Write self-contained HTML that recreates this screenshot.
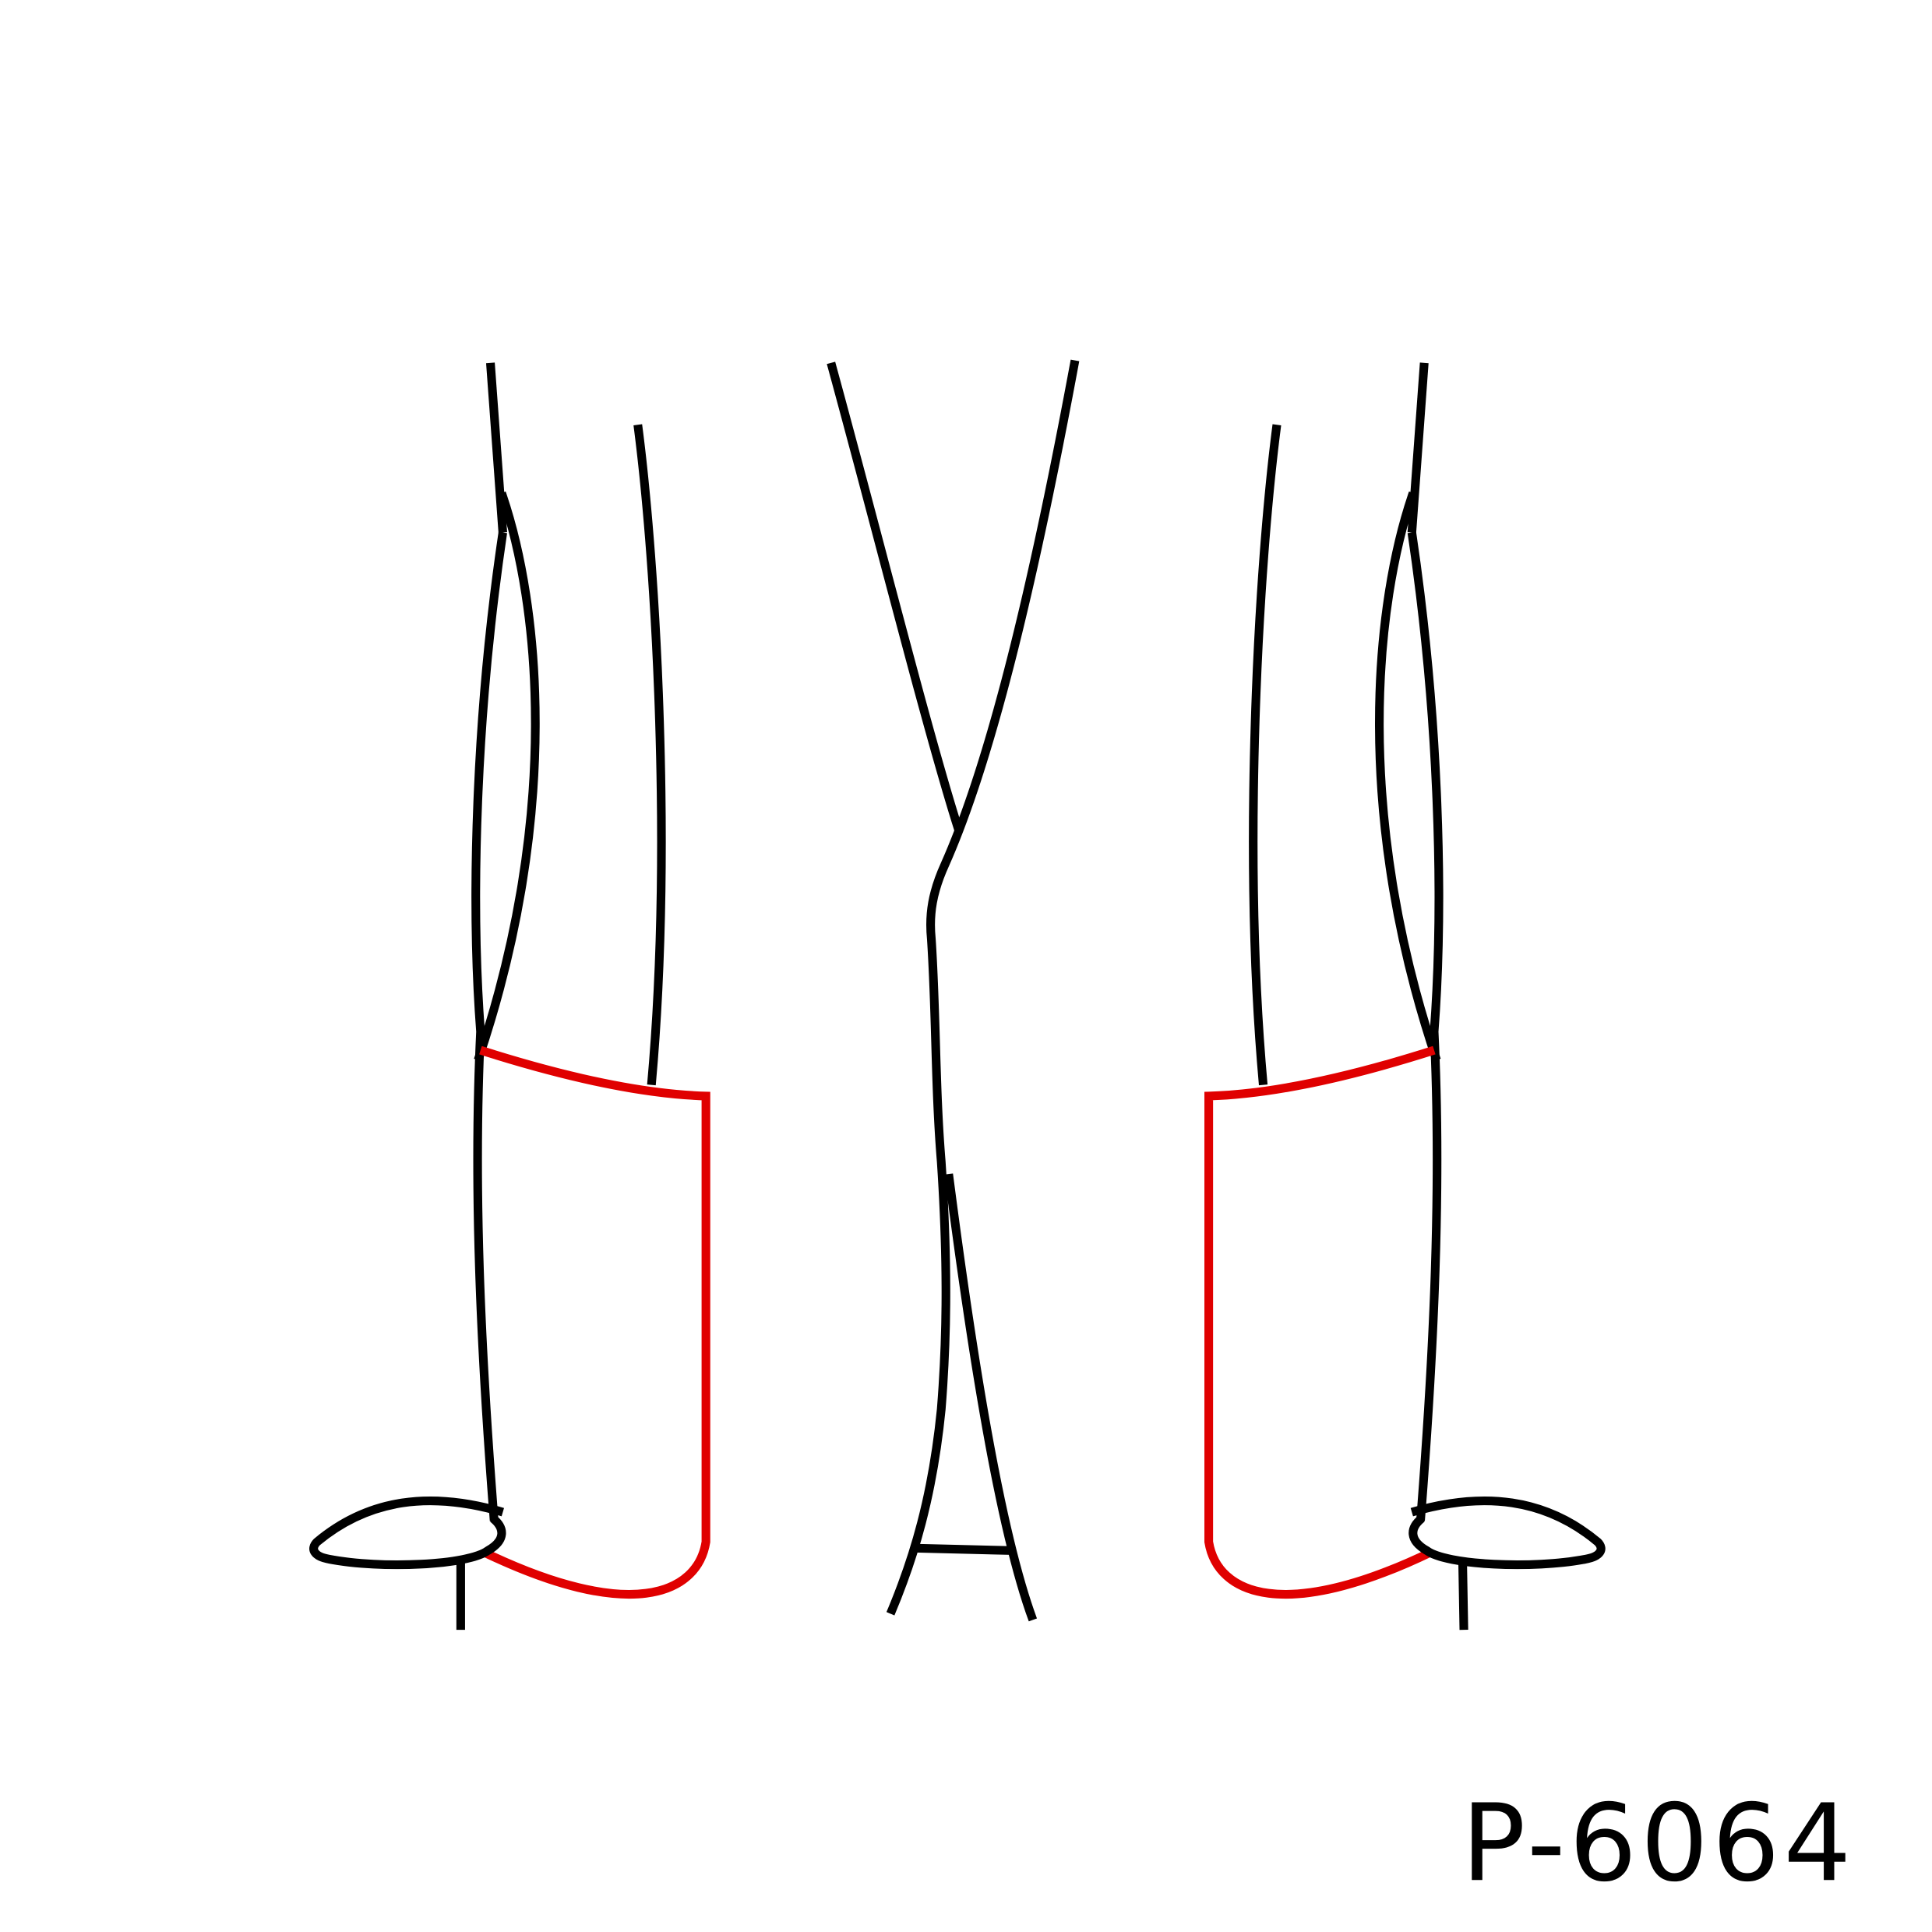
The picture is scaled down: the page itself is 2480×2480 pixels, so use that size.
<!DOCTYPE html>
<html><head><meta charset="utf-8"><style>
html,body{margin:0;padding:0;background:#fff;}
svg{display:block;}
</style></head><body>
<svg width="2480" height="2480" viewBox="0 0 1560 1560" xmlns="http://www.w3.org/2000/svg">
<rect width="1560" height="1560" fill="#fff"/>
<g id="left" fill="none" stroke-width="7" transform="translate(-2,-2)">
  <path stroke="#000" d="M398,295 L408,432"/>
  <path stroke="#000" d="M408,432 C386,580 382,730 390,835 C384,960 390,1090 401,1230"/>
  <path stroke="#000" d="M407,400 C438,490 455,660 388,858"/>
  <path stroke="#000" d="M517,345 C532,460 545,690 528,878"/>
  <path stroke="#e00000" d="M390,850 Q500,885 572,887 L572,1247 C565,1290 510,1312 392,1255"/>
  <path stroke="#000" d="M408,1223 C350,1206 300,1212 258,1247 C252,1253 256,1259 268,1261 C310,1269 380,1266 396,1254 C410,1246 410,1236 400,1228"/>
  <path stroke="#000" d="M374,1262 L374,1318"/>
</g>
<g transform="translate(1548,-2) scale(-1,1)" fill="none" stroke-width="7">
  <path stroke="#000" d="M398,295 L408,432"/>
  <path stroke="#000" d="M408,432 C386,580 382,730 390,835 C384,960 390,1090 401,1230"/>
  <path stroke="#000" d="M407,400 C438,490 455,660 388,858"/>
  <path stroke="#000" d="M517,345 C532,460 545,690 528,878"/>
  <path stroke="#e00000" d="M390,850 Q500,885 572,887 L572,1247 C565,1290 510,1312 392,1255"/>
  <path stroke="#000" d="M408,1223 C350,1206 300,1212 258,1247 C252,1253 256,1259 268,1261 C310,1269 380,1266 396,1254 C410,1246 410,1236 400,1228"/>
  <path stroke="#000" d="M367,1262 L366,1318"/>
</g>
<g fill="none" stroke="#000" stroke-width="7" transform="translate(-2,-2)">
  <path d="M673,295 C710,430 750,590 776,672"/>
  <path d="M870,293 C840,455 805,610 765,700 C755,722 752,740 754,760 C758,820 757,880 762,940 C768,1030 766,1090 762,1140 C755,1210 740,1260 721,1305"/>
  <path d="M768,950 C790,1120 812,1245 836,1310"/>
  <path d="M738,1252 L818,1254"/>
</g>
<text x="1180" y="1518" font-family="DejaVu Sans, Liberation Sans, sans-serif" font-size="86" letter-spacing="3" fill="#000">P-6064</text>
</svg>
</body></html>
